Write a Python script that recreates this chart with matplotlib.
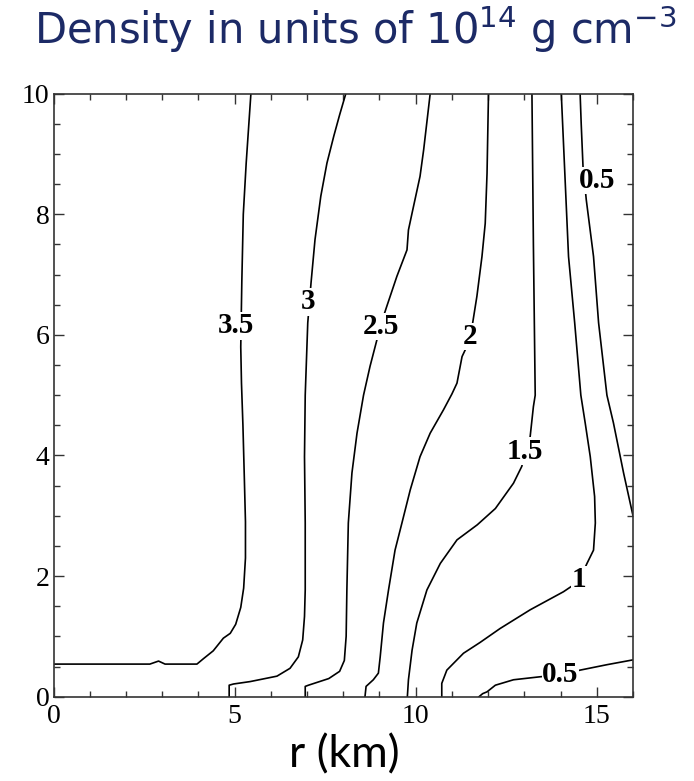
import matplotlib.pyplot as plt

# density contours, units of 1e14 g/cm^3, r and z in km
c35_r = [0.0, 2.66, 2.9, 3.08, 3.96, 4.14, 4.41, 4.69, 4.88, 5.03, 5.17, 5.25, 5.3, 5.3,
         5.27, 5.23, 5.19, 5.17, 5.2, 5.24, 5.32, 5.45]
c35_z = [0.54, 0.54, 0.59, 0.54, 0.54, 0.63, 0.76, 0.97, 1.05, 1.2, 1.48, 1.8, 2.3, 2.9,
         3.6, 4.5, 5.2, 5.8, 6.9, 8.0, 8.85, 10.0]

c3_r = [4.85, 4.85, 4.97, 5.43, 6.17, 6.53, 6.76, 6.88, 6.93, 6.95, 6.95, 6.93, 6.95, 7.02,
        7.11, 7.22, 7.38, 7.55, 7.74, 7.9, 8.07]
c3_z = [0.0, 0.19, 0.21, 0.25, 0.34, 0.47, 0.66, 0.94, 1.33, 1.77, 2.88, 3.98, 5.0, 6.2,
        6.86, 7.58, 8.3, 8.85, 9.3, 9.65, 10.0]

c25_r = [6.95, 6.95, 7.04, 7.6, 7.9, 8.03, 8.08, 8.1, 8.14, 8.24, 8.38, 8.56, 8.74, 8.93,
         9.02, 9.2, 9.48, 9.76, 9.8, 9.9, 10.12, 10.22, 10.4]
c25_z = [0.0, 0.17, 0.19, 0.3, 0.42, 0.6, 1.0, 1.77, 2.88, 3.71, 4.37, 5.0, 5.48, 5.92,
         6.14, 6.47, 6.97, 7.41, 7.74, 8.02, 8.63, 9.07, 10.0]

c2_r = [8.6, 8.63, 8.83, 8.97, 9.02, 9.11, 9.25, 9.43, 9.62, 9.85, 10.12, 10.4, 10.77, 11.0,
        11.14, 11.28, 11.5, 11.6, 11.69, 11.83, 11.92, 11.97, 12.01]
c2_z = [0.0, 0.17, 0.28, 0.39, 0.66, 1.22, 1.77, 2.43, 2.88, 3.43, 3.98, 4.37, 4.76, 5.02,
        5.2, 5.64, 5.92, 6.3, 6.64, 7.3, 7.85, 8.68, 10.0]

c15_r = [9.77, 9.8, 9.9, 10.03, 10.31, 10.68, 11.14, 11.7, 12.2, 12.7, 12.93, 13.02, 13.16,
         13.25, 13.3, 13.25, 13.21]
c15_z = [0.0, 0.28, 0.77, 1.22, 1.77, 2.21, 2.6, 2.85, 3.12, 3.54, 3.82, 4.07, 4.31,
         4.81, 5.0, 7.5, 10.0]

c1_r = [10.72, 10.72, 10.86, 11.32, 11.78, 12.33, 13.16, 14.08, 14.5, 14.73, 14.91, 14.96,
        14.94, 14.82, 14.68, 14.56, 14.39, 14.22, 14.02]
c1_z = [0.0, 0.22, 0.44, 0.72, 0.9, 1.13, 1.44, 1.74, 1.91, 2.21, 2.43, 2.88,
        3.32, 3.98, 4.54, 5.0, 6.2, 7.3, 10.0]

c05a_r = [14.54, 14.57, 14.62, 14.71, 14.91, 15.05, 15.28, 15.46, 15.74, 16.0]
c05a_z = [10.0, 9.5, 8.79, 8.24, 7.3, 6.2, 5.0, 4.54, 3.71, 3.0]

c05b_r = [11.75, 11.85, 11.97, 12.2, 12.7, 13.44, 13.99, 14.54, 15.28, 16.0]
c05b_z = [0.0, 0.05, 0.08, 0.19, 0.28, 0.33, 0.36, 0.44, 0.53, 0.61]

lines = [(c35_r, c35_z), (c3_r, c3_z), (c25_r, c25_z), (c2_r, c2_z),
         (c15_r, c15_z), (c1_r, c1_z), (c05a_r, c05a_z), (c05b_r, c05b_z)]

label_text = ["3.5", "3", "2.5", "2", "1.5", "1", "0.5", "0.5"]
label_r = [5.04, 7.02, 9.04, 11.5, 13.02, 14.51, 15.0, 13.99]
label_z = [6.15, 6.55, 6.14, 5.97, 4.07, 1.94, 8.56, 0.36]

fig = plt.figure(figsize=(6.94, 7.81), dpi=100)
ax = fig.add_axes([0.0771, 0.108, 0.835, 0.772])

for r, z in lines:
    ax.plot(r, z, color="black", lw=1.2, solid_joinstyle="round")

for t, r, z in zip(label_text, label_r, label_z):
    ax.text(r, z, t, ha="center", va="center", fontsize=21, fontweight="bold",
            family="Liberation Serif",
            bbox=dict(facecolor="white", edgecolor="none", pad=0.3))

ax.set_xlim(0, 16)
ax.set_ylim(0, 10)
ax.set_xticks([0, 5, 10, 15])
ax.set_xticks(range(0, 17), minor=True)
ax.set_yticks([0, 2, 4, 6, 8, 10])
ax.set_yticks([i * 0.5 for i in range(21)], minor=True)
ax.tick_params(which="both", direction="in", top=True, right=True, color="#333333",
               labelsize=20, width=1.0)
ax.tick_params(which="major", length=7)
ax.tick_params(which="minor", length=4.5)
ax.tick_params(axis="x", pad=5)
ax.tick_params(axis="y", pad=3)
for lab in ax.get_xticklabels() + ax.get_yticklabels():
    lab.set_family("Liberation Serif")
for s in ax.spines.values():
    s.set_linewidth(1.2)
    s.set_color("#333333")

fig.text(0.512, 0.962, "Density in units of 10$^{14}$ g cm$^{-3}$", ha="center",
         va="center", fontsize=30, color="#1c2a66", family="DejaVu Sans")
fig.text(0.496, 0.033, "r (km)", ha="center", va="center", fontsize=32, family="Lato")

fig.savefig("out.png", dpi=100)
